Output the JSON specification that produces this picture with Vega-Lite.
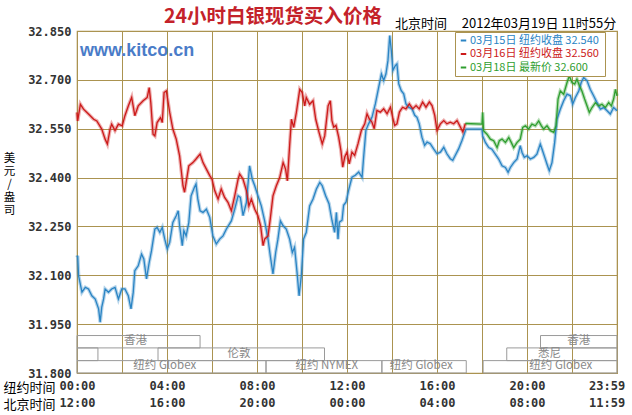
{
  "$schema": "https://vega.github.io/schema/vega-lite/v6.json",
  "width": 540,
  "height": 342,
  "autosize": {"type": "none"},
  "padding": {"left": 77, "top": 31, "right": 15, "bottom": 42},
  "background": "white",
  "title": {"text": "24小时白银现货买入价格", "anchor": "start", "frame": "group", "dx": 87, "dy": 11, "offset": 2, "fontSize": 19.5, "font": "Noto Sans CJK SC", "fontWeight": "bold", "color": "#c4222a"},
  "config": {
    "view": {"stroke": "#ab9350", "strokeWidth": 1.2},
    "axis": {"gridColor": "#ab9350", "gridOpacity": 1, "gridWidth": 1, "domain": false, "ticks": false, "tickSize": 0}
  },
  "datasets": {
    "lines": [
      {"series": "03月15日  纽约收盘 32.540", "hour": 0.00, "price": 32.155},
      {"series": "03月15日  纽约收盘 32.540", "hour": 0.03, "price": 32.160},
      {"series": "03月15日  纽约收盘 32.540", "hour": 0.07, "price": 32.099},
      {"series": "03月15日  纽约收盘 32.540", "hour": 0.22, "price": 32.048},
      {"series": "03月15日  纽约收盘 32.540", "hour": 0.37, "price": 32.063},
      {"series": "03月15日  纽约收盘 32.540", "hour": 0.51, "price": 32.058},
      {"series": "03月15日  纽约收盘 32.540", "hour": 0.66, "price": 32.037},
      {"series": "03月15日  纽约收盘 32.540", "hour": 0.81, "price": 32.027},
      {"series": "03月15日  纽约收盘 32.540", "hour": 0.96, "price": 31.997},
      {"series": "03月15日  纽约收盘 32.540", "hour": 1.03, "price": 31.956},
      {"series": "03月15日  纽约收盘 32.540", "hour": 1.10, "price": 32.002},
      {"series": "03月15日  纽约收盘 32.540", "hour": 1.18, "price": 32.027},
      {"series": "03月15日  纽约收盘 32.540", "hour": 1.25, "price": 32.058},
      {"series": "03月15日  纽约收盘 32.540", "hour": 1.40, "price": 32.048},
      {"series": "03月15日  纽约收盘 32.540", "hour": 1.54, "price": 32.058},
      {"series": "03月15日  纽约收盘 32.540", "hour": 1.69, "price": 32.063},
      {"series": "03月15日  纽约收盘 32.540", "hour": 1.84, "price": 32.027},
      {"series": "03月15日  纽约收盘 32.540", "hour": 1.99, "price": 32.058},
      {"series": "03月15日  纽约收盘 32.540", "hour": 2.13, "price": 32.058},
      {"series": "03月15日  纽约收盘 32.540", "hour": 2.28, "price": 32.037},
      {"series": "03月15日  纽约收盘 32.540", "hour": 2.40, "price": 31.997},
      {"series": "03月15日  纽约收盘 32.540", "hour": 2.50, "price": 32.048},
      {"series": "03月15日  纽约收盘 32.540", "hour": 2.57, "price": 32.114},
      {"series": "03月15日  纽约收盘 32.540", "hour": 2.72, "price": 32.129},
      {"series": "03月15日  纽约收盘 32.540", "hour": 2.87, "price": 32.165},
      {"series": "03月15日  纽约收盘 32.540", "hour": 2.97, "price": 32.150},
      {"series": "03月15日  纽约收盘 32.540", "hour": 3.09, "price": 32.089},
      {"series": "03月15日  纽约收盘 32.540", "hour": 3.21, "price": 32.140},
      {"series": "03月15日  纽约收盘 32.540", "hour": 3.31, "price": 32.175},
      {"series": "03月15日  纽约收盘 32.540", "hour": 3.46, "price": 32.242},
      {"series": "03月15日  纽约收盘 32.540", "hour": 3.56, "price": 32.247},
      {"series": "03月15日  纽约收盘 32.540", "hour": 3.68, "price": 32.232},
      {"series": "03月15日  纽约收盘 32.540", "hour": 3.79, "price": 32.247},
      {"series": "03月15日  纽约收盘 32.540", "hour": 3.90, "price": 32.211},
      {"series": "03月15日  纽约收盘 32.540", "hour": 4.01, "price": 32.181},
      {"series": "03月15日  纽约收盘 32.540", "hour": 4.12, "price": 32.201},
      {"series": "03月15日  纽约收盘 32.540", "hour": 4.26, "price": 32.262},
      {"series": "03月15日  纽约收盘 32.540", "hour": 4.41, "price": 32.283},
      {"series": "03月15日  纽约收盘 32.540", "hour": 4.50, "price": 32.298},
      {"series": "03月15日  纽约收盘 32.540", "hour": 4.56, "price": 32.252},
      {"series": "03月15日  纽约收盘 32.540", "hour": 4.68, "price": 32.191},
      {"series": "03月15日  纽约收盘 32.540", "hour": 4.75, "price": 32.237},
      {"series": "03月15日  纽约收盘 32.540", "hour": 4.85, "price": 32.221},
      {"series": "03月15日  纽约收盘 32.540", "hour": 4.97, "price": 32.262},
      {"series": "03月15日  纽约收盘 32.540", "hour": 5.07, "price": 32.344},
      {"series": "03月15日  纽约收盘 32.540", "hour": 5.22, "price": 32.370},
      {"series": "03月15日  纽约收盘 32.540", "hour": 5.29, "price": 32.380},
      {"series": "03月15日  纽约收盘 32.540", "hour": 5.37, "price": 32.334},
      {"series": "03月15日  纽约收盘 32.540", "hour": 5.47, "price": 32.298},
      {"series": "03月15日  纽约收盘 32.540", "hour": 5.60, "price": 32.293},
      {"series": "03月15日  纽约收盘 32.540", "hour": 5.75, "price": 32.303},
      {"series": "03月15日  纽约收盘 32.540", "hour": 5.90, "price": 32.278},
      {"series": "03月15日  纽约收盘 32.540", "hour": 6.04, "price": 32.221},
      {"series": "03月15日  纽约收盘 32.540", "hour": 6.19, "price": 32.196},
      {"series": "03月15日  纽约收盘 32.540", "hour": 6.34, "price": 32.211},
      {"series": "03月15日  纽约收盘 32.540", "hour": 6.49, "price": 32.221},
      {"series": "03月15日  纽约收盘 32.540", "hour": 6.64, "price": 32.242},
      {"series": "03月15日  纽约收盘 32.540", "hour": 6.86, "price": 32.267},
      {"series": "03月15日  纽约收盘 32.540", "hour": 7.01, "price": 32.303},
      {"series": "03月15日  纽约收盘 32.540", "hour": 7.16, "price": 32.344},
      {"series": "03月15日  纽约收盘 32.540", "hour": 7.26, "price": 32.339},
      {"series": "03月15日  纽约收盘 32.540", "hour": 7.38, "price": 32.283},
      {"series": "03月15日  纽约收盘 32.540", "hour": 7.53, "price": 32.324},
      {"series": "03月15日  纽约收盘 32.540", "hour": 7.67, "price": 32.436},
      {"series": "03月15日  纽约收盘 32.540", "hour": 7.79, "price": 32.395},
      {"series": "03月15日  纽约收盘 32.540", "hour": 7.90, "price": 32.375},
      {"series": "03月15日  纽约收盘 32.540", "hour": 8.04, "price": 32.344},
      {"series": "03月15日  纽约收盘 32.540", "hour": 8.19, "price": 32.313},
      {"series": "03月15日  纽约收盘 32.540", "hour": 8.34, "price": 32.267},
      {"series": "03月15日  纽约收盘 32.540", "hour": 8.49, "price": 32.211},
      {"series": "03月15日  纽约收盘 32.540", "hour": 8.59, "price": 32.160},
      {"series": "03月15日  纽约收盘 32.540", "hour": 8.71, "price": 32.104},
      {"series": "03月15日  纽约收盘 32.540", "hour": 8.83, "price": 32.170},
      {"series": "03月15日  纽约收盘 32.540", "hour": 8.93, "price": 32.211},
      {"series": "03月15日  纽约收盘 32.540", "hour": 9.04, "price": 32.267},
      {"series": "03月15日  纽约收盘 32.540", "hour": 9.16, "price": 32.252},
      {"series": "03月15日  纽约收盘 32.540", "hour": 9.30, "price": 32.242},
      {"series": "03月15日  纽约收盘 32.540", "hour": 9.45, "price": 32.211},
      {"series": "03月15日  纽约收盘 32.540", "hour": 9.57, "price": 32.170},
      {"series": "03月15日  纽约收盘 32.540", "hour": 9.67, "price": 32.186},
      {"series": "03月15日  纽约收盘 32.540", "hour": 9.78, "price": 32.109},
      {"series": "03月15日  纽约收盘 32.540", "hour": 9.87, "price": 32.037},
      {"series": "03月15日  纽约收盘 32.540", "hour": 9.97, "price": 32.099},
      {"series": "03月15日  纽约收盘 32.540", "hour": 10.07, "price": 32.211},
      {"series": "03月15日  纽约收盘 32.540", "hour": 10.19, "price": 32.232},
      {"series": "03月15日  纽约收盘 32.540", "hour": 10.34, "price": 32.313},
      {"series": "03月15日  纽约收盘 32.540", "hour": 10.49, "price": 32.334},
      {"series": "03月15日  纽约收盘 32.540", "hour": 10.64, "price": 32.365},
      {"series": "03月15日  纽约收盘 32.540", "hour": 10.79, "price": 32.385},
      {"series": "03月15日  纽约收盘 32.540", "hour": 10.90, "price": 32.375},
      {"series": "03月15日  纽约收盘 32.540", "hour": 11.05, "price": 32.344},
      {"series": "03月15日  纽约收盘 32.540", "hour": 11.20, "price": 32.320},
      {"series": "03月15日  纽约收盘 32.540", "hour": 11.33, "price": 32.269},
      {"series": "03月15日  纽约收盘 32.540", "hour": 11.45, "price": 32.232},
      {"series": "03月15日  纽约收盘 32.540", "hour": 11.53, "price": 32.293},
      {"series": "03月15日  纽约收盘 32.540", "hour": 11.60, "price": 32.211},
      {"series": "03月15日  纽约收盘 32.540", "hour": 11.66, "price": 32.263},
      {"series": "03月15日  纽约收盘 32.540", "hour": 11.78, "price": 32.269},
      {"series": "03月15日  纽约收盘 32.540", "hour": 11.85, "price": 32.315},
      {"series": "03月15日  纽约收盘 32.540", "hour": 11.96, "price": 32.325},
      {"series": "03月15日  纽约收盘 32.540", "hour": 12.07, "price": 32.361},
      {"series": "03月15日  纽约收盘 32.540", "hour": 12.22, "price": 32.401},
      {"series": "03月15日  纽约收盘 32.540", "hour": 12.37, "price": 32.407},
      {"series": "03月15日  纽约收盘 32.540", "hour": 12.52, "price": 32.417},
      {"series": "03月15日  纽约收盘 32.540", "hour": 12.67, "price": 32.401},
      {"series": "03月15日  纽约收盘 32.540", "hour": 12.74, "price": 32.463},
      {"series": "03月15日  纽约收盘 32.540", "hour": 12.84, "price": 32.545},
      {"series": "03月15日  纽约收盘 32.540", "hour": 12.96, "price": 32.565},
      {"series": "03月15日  纽约收盘 32.540", "hour": 13.11, "price": 32.585},
      {"series": "03月15日  纽约收盘 32.540", "hour": 13.26, "price": 32.626},
      {"series": "03月15日  纽约收盘 32.540", "hour": 13.41, "price": 32.678},
      {"series": "03月15日  纽约收盘 32.540", "hour": 13.53, "price": 32.718},
      {"series": "03月15日  纽约收盘 32.540", "hour": 13.63, "price": 32.698},
      {"series": "03月15日  纽约收盘 32.540", "hour": 13.73, "price": 32.718},
      {"series": "03月15日  纽约收盘 32.540", "hour": 13.82, "price": 32.759},
      {"series": "03月15日  纽约收盘 32.540", "hour": 13.90, "price": 32.836},
      {"series": "03月15日  纽约收盘 32.540", "hour": 13.97, "price": 32.790},
      {"series": "03月15日  纽约收盘 32.540", "hour": 14.04, "price": 32.729},
      {"series": "03月15日  纽约收盘 32.540", "hour": 14.15, "price": 32.744},
      {"series": "03月15日  纽约收盘 32.540", "hour": 14.22, "price": 32.749},
      {"series": "03月15日  纽约收盘 32.540", "hour": 14.30, "price": 32.688},
      {"series": "03月15日  纽约收盘 32.540", "hour": 14.41, "price": 32.667},
      {"series": "03月15日  纽约收盘 32.540", "hour": 14.52, "price": 32.657},
      {"series": "03月15日  纽约收盘 32.540", "hour": 14.62, "price": 32.626},
      {"series": "03月15日  纽约收盘 32.540", "hour": 14.74, "price": 32.616},
      {"series": "03月15日  纽约收盘 32.540", "hour": 14.89, "price": 32.611},
      {"series": "03月15日  纽约收盘 32.540", "hour": 15.01, "price": 32.591},
      {"series": "03月15日  纽约收盘 32.540", "hour": 15.11, "price": 32.585},
      {"series": "03月15日  纽约收盘 32.540", "hour": 15.21, "price": 32.565},
      {"series": "03月15日  纽约收盘 32.540", "hour": 15.33, "price": 32.524},
      {"series": "03月15日  纽约收盘 32.540", "hour": 15.45, "price": 32.499},
      {"series": "03月15日  纽约收盘 32.540", "hour": 15.56, "price": 32.509},
      {"series": "03月15日  纽约收盘 32.540", "hour": 15.70, "price": 32.504},
      {"series": "03月15日  纽约收盘 32.540", "hour": 15.85, "price": 32.488},
      {"series": "03月15日  纽约收盘 32.540", "hour": 16.00, "price": 32.473},
      {"series": "03月15日  纽约收盘 32.540", "hour": 16.15, "price": 32.478},
      {"series": "03月15日  纽约收盘 32.540", "hour": 16.30, "price": 32.493},
      {"series": "03月15日  纽约收盘 32.540", "hour": 16.44, "price": 32.473},
      {"series": "03月15日  纽约收盘 32.540", "hour": 16.59, "price": 32.458},
      {"series": "03月15日  纽约收盘 32.540", "hour": 16.70, "price": 32.453},
      {"series": "03月15日  纽约收盘 32.540", "hour": 16.81, "price": 32.468},
      {"series": "03月15日  纽约收盘 32.540", "hour": 16.96, "price": 32.488},
      {"series": "03月15日  纽约收盘 32.540", "hour": 17.11, "price": 32.514},
      {"series": "03月15日  纽约收盘 32.540", "hour": 17.26, "price": 32.544},
      {"series": "03月15日  纽约收盘 32.540", "hour": 17.30, "price": 32.549},
      {"series": "03月15日  纽约收盘 32.540", "hour": 18.00, "price": 32.549},
      {"series": "03月15日  纽约收盘 32.540", "hour": 18.03, "price": 32.528},
      {"series": "03月15日  纽约收盘 32.540", "hour": 18.15, "price": 32.508},
      {"series": "03月15日  纽约收盘 32.540", "hour": 18.30, "price": 32.492},
      {"series": "03月15日  纽约收盘 32.540", "hour": 18.44, "price": 32.487},
      {"series": "03月15日  纽约收盘 32.540", "hour": 18.59, "price": 32.472},
      {"series": "03月15日  纽约收盘 32.540", "hour": 18.74, "price": 32.457},
      {"series": "03月15日  纽约收盘 32.540", "hour": 18.89, "price": 32.436},
      {"series": "03月15日  纽约收盘 32.540", "hour": 19.04, "price": 32.431},
      {"series": "03月15日  纽约收盘 32.540", "hour": 19.16, "price": 32.416},
      {"series": "03月15日  纽约收盘 32.540", "hour": 19.26, "price": 32.431},
      {"series": "03月15日  纽约收盘 32.540", "hour": 19.41, "price": 32.446},
      {"series": "03月15日  纽约收盘 32.540", "hour": 19.56, "price": 32.457},
      {"series": "03月15日  纽约收盘 32.540", "hour": 19.70, "price": 32.498},
      {"series": "03月15日  纽约收盘 32.540", "hour": 19.78, "price": 32.477},
      {"series": "03月15日  纽约收盘 32.540", "hour": 19.88, "price": 32.462},
      {"series": "03月15日  纽约收盘 32.540", "hour": 20.00, "price": 32.467},
      {"series": "03月15日  纽约收盘 32.540", "hour": 20.15, "price": 32.457},
      {"series": "03月15日  纽约收盘 32.540", "hour": 20.30, "price": 32.462},
      {"series": "03月15日  纽约收盘 32.540", "hour": 20.44, "price": 32.472},
      {"series": "03月15日  纽约收盘 32.540", "hour": 20.59, "price": 32.503},
      {"series": "03月15日  纽约收盘 32.540", "hour": 20.67, "price": 32.487},
      {"series": "03月15日  纽约收盘 32.540", "hour": 20.79, "price": 32.462},
      {"series": "03月15日  纽约收盘 32.540", "hour": 20.89, "price": 32.441},
      {"series": "03月15日  纽约收盘 32.540", "hour": 20.99, "price": 32.421},
      {"series": "03月15日  纽约收盘 32.540", "hour": 21.11, "price": 32.446},
      {"series": "03月15日  纽约收盘 32.540", "hour": 21.23, "price": 32.508},
      {"series": "03月15日  纽约收盘 32.540", "hour": 21.33, "price": 32.579},
      {"series": "03月15日  纽约收盘 32.540", "hour": 21.48, "price": 32.610},
      {"series": "03月15日  纽约收盘 32.540", "hour": 21.63, "price": 32.636},
      {"series": "03月15日  纽约收盘 32.540", "hour": 21.78, "price": 32.656},
      {"series": "03月15日  纽约收盘 32.540", "hour": 21.93, "price": 32.651},
      {"series": "03月15日  纽约收盘 32.540", "hour": 22.03, "price": 32.625},
      {"series": "03月15日  纽约收盘 32.540", "hour": 22.15, "price": 32.646},
      {"series": "03月15日  纽约收盘 32.540", "hour": 22.30, "price": 32.666},
      {"series": "03月15日  纽约收盘 32.540", "hour": 22.41, "price": 32.692},
      {"series": "03月15日  纽约收盘 32.540", "hour": 22.52, "price": 32.707},
      {"series": "03月15日  纽约收盘 32.540", "hour": 22.67, "price": 32.697},
      {"series": "03月15日  纽约收盘 32.540", "hour": 22.81, "price": 32.671},
      {"series": "03月15日  纽约收盘 32.540", "hour": 22.96, "price": 32.651},
      {"series": "03月15日  纽约收盘 32.540", "hour": 23.11, "price": 32.630},
      {"series": "03月15日  纽约收盘 32.540", "hour": 23.26, "price": 32.610},
      {"series": "03月15日  纽约收盘 32.540", "hour": 23.41, "price": 32.615},
      {"series": "03月15日  纽约收盘 32.540", "hour": 23.56, "price": 32.605},
      {"series": "03月15日  纽约收盘 32.540", "hour": 23.70, "price": 32.595},
      {"series": "03月15日  纽约收盘 32.540", "hour": 23.85, "price": 32.615},
      {"series": "03月15日  纽约收盘 32.540", "hour": 24.00, "price": 32.605},
      {"series": "03月16日  纽约收盘 32.560", "hour": 0.00, "price": 32.600},
      {"series": "03月16日  纽约收盘 32.560", "hour": 0.03, "price": 32.574},
      {"series": "03月16日  纽约收盘 32.560", "hour": 0.15, "price": 32.625},
      {"series": "03月16日  纽约收盘 32.560", "hour": 0.29, "price": 32.610},
      {"series": "03月16日  纽约收盘 32.560", "hour": 0.51, "price": 32.595},
      {"series": "03月16日  纽约收盘 32.560", "hour": 0.74, "price": 32.579},
      {"series": "03月16日  纽约收盘 32.560", "hour": 0.88, "price": 32.574},
      {"series": "03月16日  纽约收盘 32.560", "hour": 1.10, "price": 32.549},
      {"series": "03月16日  纽约收盘 32.560", "hour": 1.25, "price": 32.518},
      {"series": "03月16日  纽约收盘 32.560", "hour": 1.35, "price": 32.503},
      {"series": "03月16日  纽约收盘 32.560", "hour": 1.47, "price": 32.549},
      {"series": "03月16日  纽约收盘 32.560", "hour": 1.54, "price": 32.564},
      {"series": "03月16日  纽约收盘 32.560", "hour": 1.69, "price": 32.544},
      {"series": "03月16日  纽约收盘 32.560", "hour": 1.84, "price": 32.564},
      {"series": "03月16日  纽约收盘 32.560", "hour": 2.01, "price": 32.559},
      {"series": "03月16日  纽约收盘 32.560", "hour": 2.13, "price": 32.590},
      {"series": "03月16日  纽约收盘 32.560", "hour": 2.28, "price": 32.620},
      {"series": "03月16日  纽约收盘 32.560", "hour": 2.43, "price": 32.646},
      {"series": "03月16日  纽约收盘 32.560", "hour": 2.57, "price": 32.590},
      {"series": "03月16日  纽约收盘 32.560", "hour": 2.72, "price": 32.620},
      {"series": "03月16日  纽约收盘 32.560", "hour": 2.94, "price": 32.636},
      {"series": "03月16日  纽约收盘 32.560", "hour": 3.12, "price": 32.646},
      {"series": "03月16日  纽约收盘 32.560", "hour": 3.21, "price": 32.676},
      {"series": "03月16日  纽约收盘 32.560", "hour": 3.28, "price": 32.630},
      {"series": "03月16日  纽约收盘 32.560", "hour": 3.38, "price": 32.533},
      {"series": "03月16日  纽约收盘 32.560", "hour": 3.46, "price": 32.528},
      {"series": "03月16日  纽约收盘 32.560", "hour": 3.56, "price": 32.569},
      {"series": "03月16日  纽约收盘 32.560", "hour": 3.71, "price": 32.584},
      {"series": "03月16日  纽约收盘 32.560", "hour": 3.79, "price": 32.569},
      {"series": "03月16日  纽约收盘 32.560", "hour": 3.87, "price": 32.661},
      {"series": "03月16日  纽约收盘 32.560", "hour": 3.97, "price": 32.666},
      {"series": "03月16日  纽约收盘 32.560", "hour": 4.12, "price": 32.600},
      {"series": "03月16日  纽约收盘 32.560", "hour": 4.26, "price": 32.549},
      {"series": "03月16日  纽约收盘 32.560", "hour": 4.41, "price": 32.518},
      {"series": "03月16日  纽约收盘 32.560", "hour": 4.56, "price": 32.467},
      {"series": "03月16日  纽约收盘 32.560", "hour": 4.71, "price": 32.375},
      {"series": "03月16日  纽约收盘 32.560", "hour": 4.78, "price": 32.355},
      {"series": "03月16日  纽约收盘 32.560", "hour": 4.85, "price": 32.385},
      {"series": "03月16日  纽约收盘 32.560", "hour": 4.97, "price": 32.436},
      {"series": "03月16日  纽约收盘 32.560", "hour": 5.15, "price": 32.446},
      {"series": "03月16日  纽约收盘 32.560", "hour": 5.29, "price": 32.457},
      {"series": "03月16日  纽约收盘 32.560", "hour": 5.47, "price": 32.472},
      {"series": "03月16日  纽约收盘 32.560", "hour": 5.60, "price": 32.446},
      {"series": "03月16日  纽约收盘 32.560", "hour": 5.75, "price": 32.426},
      {"series": "03月16日  纽约收盘 32.560", "hour": 5.90, "price": 32.406},
      {"series": "03月16日  纽约收盘 32.560", "hour": 6.00, "price": 32.395},
      {"series": "03月16日  纽约收盘 32.560", "hour": 6.12, "price": 32.360},
      {"series": "03月16日  纽约收盘 32.560", "hour": 6.27, "price": 32.334},
      {"series": "03月16日  纽约收盘 32.560", "hour": 6.41, "price": 32.365},
      {"series": "03月16日  纽约收盘 32.560", "hour": 6.56, "price": 32.339},
      {"series": "03月16日  纽约收盘 32.560", "hour": 6.71, "price": 32.324},
      {"series": "03月16日  纽约收盘 32.560", "hour": 6.86, "price": 32.298},
      {"series": "03月16日  纽约收盘 32.560", "hour": 7.01, "price": 32.344},
      {"series": "03月16日  纽约收盘 32.560", "hour": 7.16, "price": 32.395},
      {"series": "03月16日  纽约收盘 32.560", "hour": 7.23, "price": 32.411},
      {"series": "03月16日  纽约收盘 32.560", "hour": 7.38, "price": 32.395},
      {"series": "03月16日  纽约收盘 32.560", "hour": 7.53, "price": 32.360},
      {"series": "03月16日  纽约收盘 32.560", "hour": 7.64, "price": 32.313},
      {"series": "03月16日  纽约收盘 32.560", "hour": 7.75, "price": 32.334},
      {"series": "03月16日  纽约收盘 32.560", "hour": 7.90, "price": 32.303},
      {"series": "03月16日  纽约收盘 32.560", "hour": 8.04, "price": 32.283},
      {"series": "03月16日  纽约收盘 32.560", "hour": 8.16, "price": 32.252},
      {"series": "03月16日  纽约收盘 32.560", "hour": 8.27, "price": 32.191},
      {"series": "03月16日  纽约收盘 32.560", "hour": 8.34, "price": 32.211},
      {"series": "03月16日  纽约收盘 32.560", "hour": 8.49, "price": 32.221},
      {"series": "03月16日  纽约收盘 32.560", "hour": 8.59, "price": 32.273},
      {"series": "03月16日  纽约收盘 32.560", "hour": 8.71, "price": 32.344},
      {"series": "03月16日  纽约收盘 32.560", "hour": 8.86, "price": 32.375},
      {"series": "03月16日  纽约收盘 32.560", "hour": 9.01, "price": 32.400},
      {"series": "03月16日  纽约收盘 32.560", "hour": 9.16, "price": 32.446},
      {"series": "03月16日  纽约收盘 32.560", "hour": 9.27, "price": 32.426},
      {"series": "03月16日  纽约收盘 32.560", "hour": 9.35, "price": 32.390},
      {"series": "03月16日  纽约收盘 32.560", "hour": 9.45, "price": 32.498},
      {"series": "03月16日  纽约收盘 32.560", "hour": 9.53, "price": 32.579},
      {"series": "03月16日  纽约收盘 32.560", "hour": 9.63, "price": 32.554},
      {"series": "03月16日  纽约收盘 32.560", "hour": 9.75, "price": 32.600},
      {"series": "03月16日  纽约收盘 32.560", "hour": 9.90, "price": 32.671},
      {"series": "03月16日  纽约收盘 32.560", "hour": 10.01, "price": 32.661},
      {"series": "03月16日  纽约收盘 32.560", "hour": 10.12, "price": 32.620},
      {"series": "03月16日  纽约收盘 32.560", "hour": 10.19, "price": 32.646},
      {"series": "03月16日  纽约收盘 32.560", "hour": 10.34, "price": 32.625},
      {"series": "03月16日  纽约收盘 32.560", "hour": 10.49, "price": 32.636},
      {"series": "03月16日  纽约收盘 32.560", "hour": 10.61, "price": 32.579},
      {"series": "03月16日  纽约收盘 32.560", "hour": 10.76, "price": 32.538},
      {"series": "03月16日  纽约收盘 32.560", "hour": 10.90, "price": 32.503},
      {"series": "03月16日  纽约收盘 32.560", "hour": 11.01, "price": 32.528},
      {"series": "03月16日  纽约收盘 32.560", "hour": 11.16, "price": 32.620},
      {"series": "03月16日  纽约收盘 32.560", "hour": 11.26, "price": 32.636},
      {"series": "03月16日  纽约收盘 32.560", "hour": 11.33, "price": 32.575},
      {"series": "03月16日  纽约收盘 32.560", "hour": 11.41, "price": 32.555},
      {"series": "03月16日  纽约收盘 32.560", "hour": 11.51, "price": 32.560},
      {"series": "03月16日  纽约收盘 32.560", "hour": 11.63, "price": 32.524},
      {"series": "03月16日  纽约收盘 32.560", "hour": 11.73, "price": 32.483},
      {"series": "03月16日  纽约收盘 32.560", "hour": 11.81, "price": 32.432},
      {"series": "03月16日  纽约收盘 32.560", "hour": 11.90, "price": 32.463},
      {"series": "03月16日  纽约收盘 32.560", "hour": 12.00, "price": 32.478},
      {"series": "03月16日  纽约收盘 32.560", "hour": 12.10, "price": 32.442},
      {"series": "03月16日  纽约收盘 32.560", "hour": 12.22, "price": 32.478},
      {"series": "03月16日  纽约收盘 32.560", "hour": 12.34, "price": 32.468},
      {"series": "03月16日  纽约收盘 32.560", "hour": 12.49, "price": 32.504},
      {"series": "03月16日  纽约收盘 32.560", "hour": 12.64, "price": 32.545},
      {"series": "03月16日  纽约收盘 32.560", "hour": 12.79, "price": 32.565},
      {"series": "03月16日  纽约收盘 32.560", "hour": 12.89, "price": 32.596},
      {"series": "03月16日  纽约收盘 32.560", "hour": 12.99, "price": 32.580},
      {"series": "03月16日  纽约收盘 32.560", "hour": 13.11, "price": 32.570},
      {"series": "03月16日  纽约收盘 32.560", "hour": 13.21, "price": 32.550},
      {"series": "03月16日  纽约收盘 32.560", "hour": 13.33, "price": 32.606},
      {"series": "03月16日  纽约收盘 32.560", "hour": 13.48, "price": 32.601},
      {"series": "03月16日  纽约收盘 32.560", "hour": 13.63, "price": 32.611},
      {"series": "03月16日  纽约收盘 32.560", "hour": 13.78, "price": 32.596},
      {"series": "03月16日  纽约收盘 32.560", "hour": 13.93, "price": 32.616},
      {"series": "03月16日  纽约收盘 32.560", "hour": 14.03, "price": 32.585},
      {"series": "03月16日  纽约收盘 32.560", "hour": 14.12, "price": 32.560},
      {"series": "03月16日  纽约收盘 32.560", "hour": 14.22, "price": 32.565},
      {"series": "03月16日  纽约收盘 32.560", "hour": 14.33, "price": 32.601},
      {"series": "03月16日  纽约收盘 32.560", "hour": 14.47, "price": 32.616},
      {"series": "03月16日  纽约收盘 32.560", "hour": 14.62, "price": 32.611},
      {"series": "03月16日  纽约收盘 32.560", "hour": 14.77, "price": 32.626},
      {"series": "03月16日  纽约收盘 32.560", "hour": 14.92, "price": 32.611},
      {"series": "03月16日  纽约收盘 32.560", "hour": 15.07, "price": 32.621},
      {"series": "03月16日  纽约收盘 32.560", "hour": 15.21, "price": 32.611},
      {"series": "03月16日  纽约收盘 32.560", "hour": 15.36, "price": 32.632},
      {"series": "03月16日  纽约收盘 32.560", "hour": 15.51, "price": 32.616},
      {"series": "03月16日  纽约收盘 32.560", "hour": 15.66, "price": 32.632},
      {"series": "03月16日  纽约收盘 32.560", "hour": 15.78, "price": 32.621},
      {"series": "03月16日  纽约收盘 32.560", "hour": 15.90, "price": 32.591},
      {"series": "03月16日  纽约收盘 32.560", "hour": 16.00, "price": 32.545},
      {"series": "03月16日  纽约收盘 32.560", "hour": 16.15, "price": 32.565},
      {"series": "03月16日  纽约收盘 32.560", "hour": 16.30, "price": 32.575},
      {"series": "03月16日  纽约收盘 32.560", "hour": 16.44, "price": 32.565},
      {"series": "03月16日  纽约收盘 32.560", "hour": 16.59, "price": 32.570},
      {"series": "03月16日  纽约收盘 32.560", "hour": 16.74, "price": 32.565},
      {"series": "03月16日  纽约收盘 32.560", "hour": 16.89, "price": 32.575},
      {"series": "03月16日  纽约收盘 32.560", "hour": 17.04, "price": 32.555},
      {"series": "03月16日  纽约收盘 32.560", "hour": 17.15, "price": 32.540},
      {"series": "03月16日  纽约收盘 32.560", "hour": 17.26, "price": 32.566},
      {"series": "03月18日      最新价 32.600", "hour": 17.26, "price": 32.566},
      {"series": "03月18日      最新价 32.600", "hour": 18.00, "price": 32.564},
      {"series": "03月18日      最新价 32.600", "hour": 18.03, "price": 32.600},
      {"series": "03月18日      最新价 32.600", "hour": 18.07, "price": 32.544},
      {"series": "03月18日      最新价 32.600", "hour": 18.22, "price": 32.533},
      {"series": "03月18日      最新价 32.600", "hour": 18.37, "price": 32.518},
      {"series": "03月18日      最新价 32.600", "hour": 18.52, "price": 32.513},
      {"series": "03月18日      最新价 32.600", "hour": 18.67, "price": 32.492},
      {"series": "03月18日      最新价 32.600", "hour": 18.77, "price": 32.513},
      {"series": "03月18日      最新价 32.600", "hour": 18.89, "price": 32.518},
      {"series": "03月18日      最新价 32.600", "hour": 19.04, "price": 32.508},
      {"series": "03月18日      最新价 32.600", "hour": 19.19, "price": 32.523},
      {"series": "03月18日      最新价 32.600", "hour": 19.30, "price": 32.508},
      {"series": "03月18日      最新价 32.600", "hour": 19.41, "price": 32.492},
      {"series": "03月18日      最新价 32.600", "hour": 19.56, "price": 32.508},
      {"series": "03月18日      最新价 32.600", "hour": 19.70, "price": 32.518},
      {"series": "03月18日      最新价 32.600", "hour": 19.81, "price": 32.554},
      {"series": "03月18日      最新价 32.600", "hour": 19.93, "price": 32.559},
      {"series": "03月18日      最新价 32.600", "hour": 20.07, "price": 32.549},
      {"series": "03月18日      最新价 32.600", "hour": 20.22, "price": 32.564},
      {"series": "03月18日      最新价 32.600", "hour": 20.37, "price": 32.559},
      {"series": "03月18日      最新价 32.600", "hour": 20.52, "price": 32.574},
      {"series": "03月18日      最新价 32.600", "hour": 20.64, "price": 32.559},
      {"series": "03月18日      最新价 32.600", "hour": 20.74, "price": 32.549},
      {"series": "03月18日      最新价 32.600", "hour": 20.89, "price": 32.559},
      {"series": "03月18日      最新价 32.600", "hour": 21.04, "price": 32.544},
      {"series": "03月18日      最新价 32.600", "hour": 21.19, "price": 32.539},
      {"series": "03月18日      最新价 32.600", "hour": 21.29, "price": 32.559},
      {"series": "03月18日      最新价 32.600", "hour": 21.38, "price": 32.641},
      {"series": "03月18日      最新价 32.600", "hour": 21.48, "price": 32.666},
      {"series": "03月18日      最新价 32.600", "hour": 21.63, "price": 32.656},
      {"series": "03月18日      最新价 32.600", "hour": 21.78, "price": 32.692},
      {"series": "03月18日      最新价 32.600", "hour": 21.88, "price": 32.712},
      {"series": "03月18日      最新价 32.600", "hour": 22.00, "price": 32.692},
      {"series": "03月18日      最新价 32.600", "hour": 22.12, "price": 32.687},
      {"series": "03月18日      最新价 32.600", "hour": 22.22, "price": 32.702},
      {"series": "03月18日      最新价 32.600", "hour": 22.33, "price": 32.682},
      {"series": "03月18日      最新价 32.600", "hour": 22.44, "price": 32.666},
      {"series": "03月18日      最新价 32.600", "hour": 22.56, "price": 32.641},
      {"series": "03月18日      最新价 32.600", "hour": 22.67, "price": 32.620},
      {"series": "03月18日      最新价 32.600", "hour": 22.77, "price": 32.600},
      {"series": "03月18日      最新价 32.600", "hour": 22.89, "price": 32.615},
      {"series": "03月18日      最新价 32.600", "hour": 23.04, "price": 32.630},
      {"series": "03月18日      最新价 32.600", "hour": 23.19, "price": 32.620},
      {"series": "03月18日      最新价 32.600", "hour": 23.33, "price": 32.625},
      {"series": "03月18日      最新价 32.600", "hour": 23.48, "price": 32.615},
      {"series": "03月18日      最新价 32.600", "hour": 23.63, "price": 32.630},
      {"series": "03月18日      最新价 32.600", "hour": 23.75, "price": 32.620},
      {"series": "03月18日      最新价 32.600", "hour": 23.85, "price": 32.641},
      {"series": "03月18日      最新价 32.600", "hour": 23.93, "price": 32.671},
      {"series": "03月18日      最新价 32.600", "hour": 24.00, "price": 32.651}
    ],
    "sessions": [
      {"market": "香港", "start": 0, "end": 5.47, "low": 31.877, "high": 31.915, "mid": 2.6},
      {"market": "", "start": 0, "end": 0.93, "low": 31.838, "high": 31.877, "mid": 0.5},
      {"market": "伦敦", "start": 3.6, "end": 11.0, "low": 31.838, "high": 31.877, "mid": 7.2},
      {"market": "纽约 Globex", "start": 0, "end": 8.4, "low": 31.8, "high": 31.838, "mid": 3.9},
      {"market": "纽约 NYMEX", "start": 8.4, "end": 13.55, "low": 31.8, "high": 31.838, "mid": 11.1},
      {"market": "纽约 Globex", "start": 13.55, "end": 17.3, "low": 31.8, "high": 31.838, "mid": 15.3},
      {"market": "纽约 Globex", "start": 18.05, "end": 24, "low": 31.8, "high": 31.838, "mid": 21.5},
      {"market": "悉尼", "start": 19.1, "end": 24, "low": 31.838, "high": 31.877, "mid": 21.0},
      {"market": "香港", "start": 20.6, "end": 24, "low": 31.877, "high": 31.915, "mid": 22.3}
    ],
    "notes": [
      {"note": "www.kitco.cn", "hour": 0.13, "price": 32.789},
      {"note": "北京时间", "hour": 14.13, "price": 32.871},
      {"note": "2012年03月19日 11时55分", "hour": 17.1, "price": 32.871}
    ]
  },
  "encoding": {
    "x": {
      "field": "hour", "type": "quantitative",
      "scale": {"domain": [0, 24], "nice": false, "zero": false},
      "axis": {
        "values": [0, 2, 4, 6, 8, 10, 12, 14, 16, 18, 20, 22, 23.98],
        "labelExpr": "datum.value > 23.9 ? ['23:59', '11:59'] : (datum.value % 4 == 0 ? [(datum.value < 10 ? '0' : '') + datum.value + ':00', ((datum.value + 12) % 24 < 10 ? '0' : '') + ((datum.value + 12) % 24) + ':00'] : '')",
        "labelFont": "DejaVu Sans Mono", "labelFontWeight": "bold", "labelFontSize": 12, "labelColor": "#333333",
        "labelPadding": 7, "labelLineHeight": 17.5, "labelBaseline": "top", "labelOverlap": false, "labelFlush": false, "labelBound": false,
        "labelOffset": {"condition": {"test": "datum.value > 23.9", "value": -10}, "value": 0},
        "title": ["纽约时间", "北京时间"], "titleX": -74, "titleY": 8, "titleAlign": "left", "titleBaseline": "top", "titleAngle": 0,
        "titleLineHeight": 17.5, "titleFontSize": 13, "titleFont": "Noto Sans CJK SC", "titleFontWeight": "normal", "titleColor": "#000000"
      }
    },
    "y": {
      "field": "price", "type": "quantitative",
      "scale": {"domain": [31.8, 32.85], "nice": false, "zero": false},
      "axis": {
        "values": [31.8, 31.95, 32.1, 32.25, 32.4, 32.55, 32.7, 32.85], "format": ".3f",
        "labelFont": "DejaVu Sans Mono", "labelFontWeight": "bold", "labelFontSize": 12, "labelColor": "#333333", "labelPadding": 6,
        "title": ["美", "元", "/", "盎", "司"], "titleAngle": 0, "titleX": -68, "titleY": 121, "titleAlign": "center", "titleBaseline": "top",
        "titleLineHeight": 13, "titleFontSize": 11.5, "titleFont": "Noto Sans CJK SC", "titleFontWeight": "normal", "titleColor": "#000000"
      }
    }
  },
  "layer": [
    {
      "mark": {"type": "rect", "color": "#e4e4e8"},
      "encoding": {"x": {"datum": 8.4}, "x2": {"datum": 13.55}, "y": {"datum": 32.85}, "y2": {"datum": 31.8}}
    },
    {
      "data": {"name": "sessions"},
      "mark": {"type": "rect", "fillOpacity": 0, "stroke": "#9a9a9a", "strokeWidth": 1},
      "encoding": {"x": {"field": "start"}, "x2": {"field": "end"}, "y": {"field": "low"}, "y2": {"field": "high"}}
    },
    {
      "data": {"name": "sessions"},
      "mark": {"type": "text", "font": "Noto Sans CJK SC", "fontSize": 11.5, "color": "#888888", "baseline": "middle", "align": "center"},
      "encoding": {"x": {"field": "mid"}, "y": {"field": "low"}, "yOffset": {"value": -7}, "text": {"field": "market"}}
    },
    {
      "data": {"name": "lines"},
      "mark": {"type": "line", "strokeWidth": 3.6, "opacity": 0.35},
      "encoding": {
        "color": {
          "field": "series", "type": "nominal",
          "scale": {"domain": ["03月15日  纽约收盘 32.540", "03月16日  纽约收盘 32.560", "03月18日      最新价 32.600"], "range": ["#2a84c4", "#cc1a1a", "#2f9e2f"]},
          "legend": {
            "orient": "none", "legendX": 378, "legendY": 1, "title": null,
            "symbolType": "stroke", "symbolSize": 30, "symbolStrokeWidth": 2, "symbolOpacity": 1,
            "labelFont": "Noto Sans CJK SC", "labelFontSize": 11, "labelOffset": 1,
            "padding": 3, "rowPadding": 1.5, "strokeColor": "#ab9350", "fillColor": "white",
            "encode": {"labels": {"update": {"fill": {"scale": "color", "field": "value"}}}}
          }
        }
      }
    },
    {
      "data": {"name": "lines"},
      "mark": {"type": "line", "strokeWidth": 1.3},
      "encoding": {
        "color": {
          "field": "series", "type": "nominal",
          "legend": {
            "orient": "none", "legendX": 378, "legendY": 1, "title": null,
            "symbolType": "stroke", "symbolSize": 30, "symbolStrokeWidth": 2, "symbolOpacity": 1,
            "labelFont": "Noto Sans CJK SC", "labelFontSize": 11, "labelOffset": 1,
            "padding": 3, "rowPadding": 1.5, "strokeColor": "#ab9350", "fillColor": "white",
            "encode": {"labels": {"update": {"fill": {"scale": "color", "field": "value"}}}}
          }
        }
      }
    },
    {
      "data": {"name": "notes"},
      "transform": [{"filter": "datum.note == 'www.kitco.cn'"}],
      "mark": {"type": "text", "font": "Liberation Sans", "fontWeight": "bold", "fontSize": 18, "color": "#4a7cc8", "align": "left", "baseline": "middle"},
      "encoding": {"text": {"field": "note"}}
    },
    {
      "data": {"name": "notes"},
      "transform": [{"filter": "datum.note != 'www.kitco.cn'"}],
      "mark": {"type": "text", "font": "Noto Sans CJK SC", "fontSize": 13, "color": "#000000", "align": "left", "baseline": "middle"},
      "encoding": {"text": {"field": "note"}}
    }
  ]
}
